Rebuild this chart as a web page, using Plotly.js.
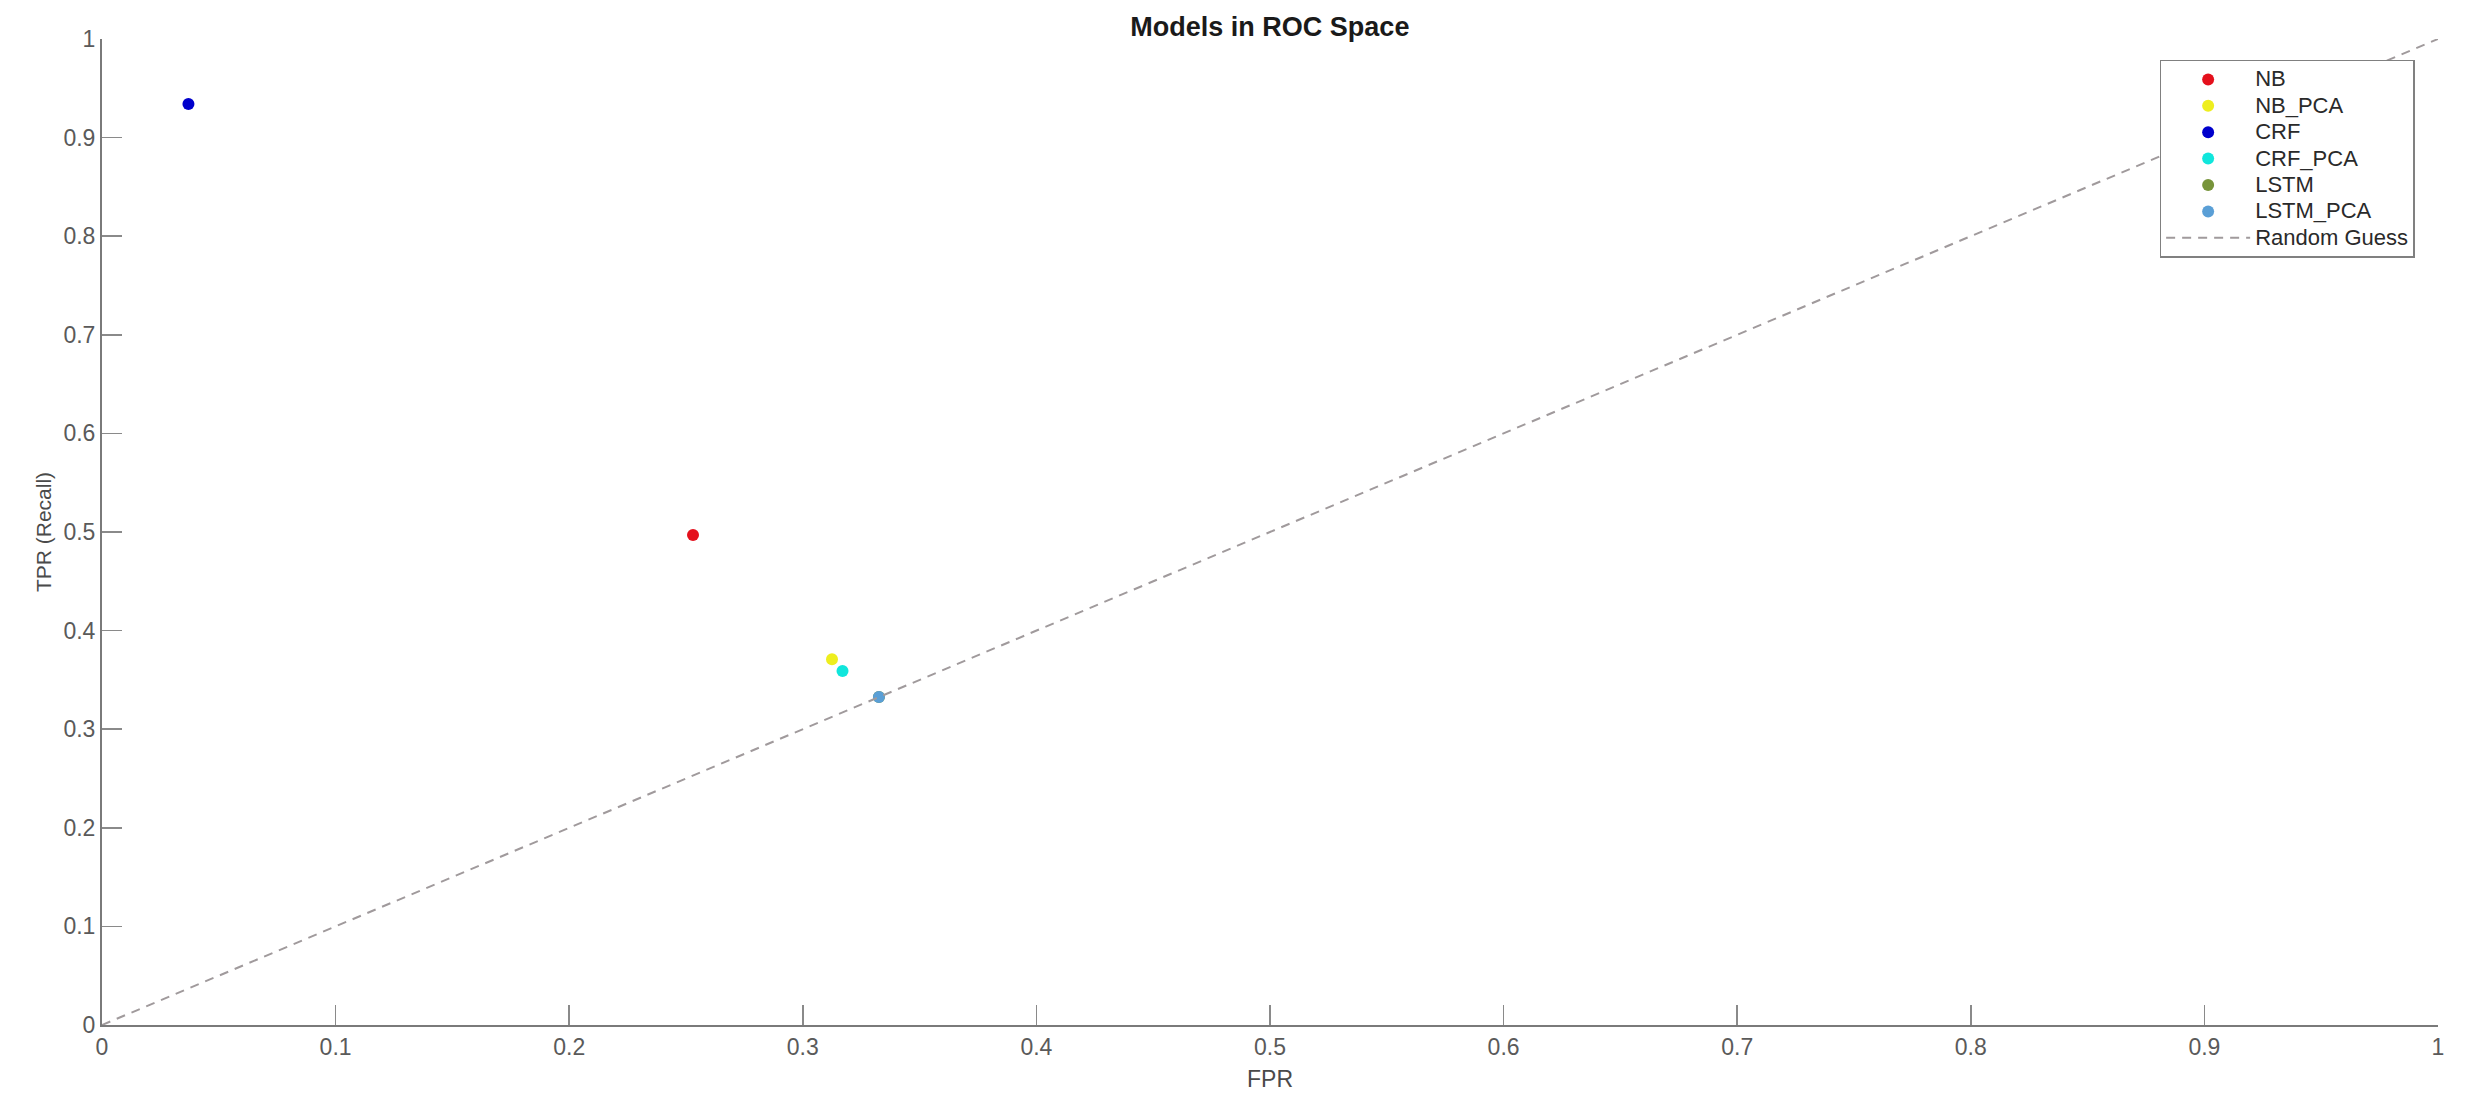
<!DOCTYPE html>
<html>
<head>
<meta charset="utf-8">
<script src="https://cdn.plot.ly/plotly-3.0.1.min.js"></script>
<style>html,body{margin:0;padding:0;background:#fff;}#chart{width:2473px;height:1094px;}</style>
</head>
<body>
<div id="chart"></div>
<script>
// Model names, FPR and TPR values
const models = ["NB", "NB_PCA", "CRF", "CRF_PCA", "LSTM", "LSTM_PCA"];
const fpr = [0.253, 0.3125, 0.037, 0.317, 0.3326, 0.3326];
const tpr = [0.497, 0.371, 0.934, 0.359, 0.3327, 0.3327];
const colors = ["#e4101c", "#eeee1e", "#0000cc", "#10e6dc", "#77943a", "#5a9fd6"];
const guessName = "Random Guess";
const guessX = [0, 1];
const guessY = [0, 1];
const tickVals = [0, 0.1, 0.2, 0.3, 0.4, 0.5, 0.6, 0.7, 0.8, 0.9, 1];
const tickText = ["0", "0.1", "0.2", "0.3", "0.4", "0.5", "0.6", "0.7", "0.8", "0.9", "1"];

const wide = s => '<span style="font-size:22px">' + s + '</span>';

const traces = models.map((m, i) => ({
  type: "scatter", mode: "markers", name: wide(m),
  x: [fpr[i]], y: [tpr[i]],
  marker: {color: colors[i], size: 12, line: {width: 0}},
  cliponaxis: false
}));
traces.push({
  type: "scatter", mode: "lines", name: wide(guessName),
  x: guessX, y: guessY,
  line: {color: "#a09a9c", width: 2, dash: "9px,7px"}
});

const axisBase = {
  range: [0, 1], autorange: false,
  showline: true, linecolor: "#7a7a7a", linewidth: 2,
  ticks: "inside", ticklen: 20, tickwidth: 1.5, tickcolor: "#8a8a8a",
  tickvals: tickVals, ticktext: tickText,
  showgrid: false, zeroline: false,
  tickfont: {family: "Liberation Sans, Arial, sans-serif", size: 23, color: "#5a5a5a"}
};

const layout = {
  width: 2473, height: 1094,
  paper_bgcolor: "#ffffff", plot_bgcolor: "#ffffff",
  margin: {l: 102, r: 35, t: 39, b: 69},
  title: {text: "<b>Models in ROC Space</b>", x: 0.5135, xanchor: "center", y: 0.984, yanchor: "top",
          font: {family: "Liberation Sans, Arial, sans-serif", size: 27, color: "#1a1a1a"}},
  xaxis: Object.assign({}, axisBase, {
    title: {text: "FPR", standoff: 12, font: {family: "Liberation Sans, Arial, sans-serif", size: 23, color: "#4a4a4a"}}
  }),
  yaxis: Object.assign({}, axisBase, {
    ticklabelstandoff: 0,
    title: {text: "TPR (Recall)", standoff: 6, font: {family: "Liberation Sans, Arial, sans-serif", size: 21, color: "#4a4a4a"}}
  }),
  showlegend: true,
  legend: {
    x: 0.990, y: 0.979, xanchor: "right", yanchor: "top",
    bgcolor: "#ffffff", bordercolor: "#808080", borderwidth: 1.5,
    font: {family: "Liberation Sans, Arial, sans-serif", size: 18, color: "#2a2a2a"},
    tracegroupgap: 0, itemwidth: 84
  }
};

Plotly.newPlot("chart", traces, layout, {displayModeBar: false, staticPlot: true});
</script>
</body>
</html>
